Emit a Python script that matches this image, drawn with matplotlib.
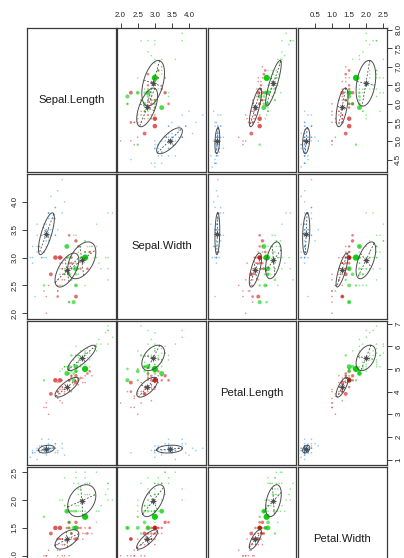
import matplotlib

matplotlib.use("Agg")
import matplotlib.pyplot as plt
import numpy as np

# iris measurements, rows 1..150 (setosa, versicolor, virginica)
sepal_length = [
    5.1, 4.9, 4.7, 4.6, 5.0, 5.4, 4.6, 5.0, 4.4, 4.9, 5.4, 4.8, 4.8, 4.3, 5.8, 5.7, 5.4, 5.1, 5.7, 5.1,
    5.4, 5.1, 4.6, 5.1, 4.8, 5.0, 5.0, 5.2, 5.2, 4.7, 4.8, 5.4, 5.2, 5.5, 4.9, 5.0, 5.5, 4.9, 4.4, 5.1,
    5.0, 4.5, 4.4, 5.0, 5.1, 4.8, 5.1, 4.6, 5.3, 5.0,
    7.0, 6.4, 6.9, 5.5, 6.5, 5.7, 6.3, 4.9, 6.6, 5.2, 5.0, 5.9, 6.0, 6.1, 5.6, 6.7, 5.6, 5.8, 6.2, 5.6,
    5.9, 6.1, 6.3, 6.1, 6.4, 6.6, 6.8, 6.7, 6.0, 5.7, 5.5, 5.5, 5.8, 6.0, 5.4, 6.0, 6.7, 6.3, 5.6, 5.5,
    5.5, 6.1, 5.8, 5.0, 5.6, 5.7, 5.7, 6.2, 5.1, 5.7,
    6.3, 5.8, 7.1, 6.3, 6.5, 7.6, 4.9, 7.3, 6.7, 7.2, 6.5, 6.4, 6.8, 5.7, 5.8, 6.4, 6.5, 7.7, 7.7, 6.0,
    6.9, 5.6, 7.7, 6.3, 6.7, 7.2, 6.2, 6.1, 6.4, 7.2, 7.4, 7.9, 6.4, 6.3, 6.1, 7.7, 6.3, 6.4, 6.0, 6.9,
    6.7, 6.9, 5.8, 6.8, 6.7, 6.7, 6.3, 6.5, 6.2, 5.9,
]
sepal_width = [
    3.5, 3.0, 3.2, 3.1, 3.6, 3.9, 3.4, 3.4, 2.9, 3.1, 3.7, 3.4, 3.0, 3.0, 4.0, 4.4, 3.9, 3.5, 3.8, 3.8,
    3.4, 3.7, 3.6, 3.3, 3.4, 3.0, 3.4, 3.5, 3.4, 3.2, 3.1, 3.4, 4.1, 4.2, 3.1, 3.2, 3.5, 3.6, 3.0, 3.4,
    3.5, 2.3, 3.2, 3.5, 3.8, 3.0, 3.8, 3.2, 3.7, 3.3,
    3.2, 3.2, 3.1, 2.3, 2.8, 2.8, 3.3, 2.4, 2.9, 2.7, 2.0, 3.0, 2.2, 2.9, 2.9, 3.1, 3.0, 2.7, 2.2, 2.5,
    3.2, 2.8, 2.5, 2.8, 2.9, 3.0, 2.8, 3.0, 2.9, 2.6, 2.4, 2.4, 2.7, 2.7, 3.0, 3.4, 3.1, 2.3, 3.0, 2.5,
    2.6, 3.0, 2.6, 2.3, 2.7, 3.0, 2.9, 2.9, 2.5, 2.8,
    3.3, 2.7, 3.0, 2.9, 3.0, 3.0, 2.5, 2.9, 2.5, 3.6, 3.2, 2.7, 3.0, 2.5, 2.8, 3.2, 3.0, 3.8, 2.6, 2.2,
    3.2, 2.8, 2.8, 2.7, 3.3, 3.2, 2.8, 3.0, 2.8, 3.0, 2.8, 3.8, 2.8, 2.8, 2.6, 3.0, 3.4, 3.1, 3.0, 3.1,
    3.1, 3.1, 2.7, 3.2, 3.3, 3.0, 2.5, 3.0, 3.4, 3.0,
]
petal_length = [
    1.4, 1.4, 1.3, 1.5, 1.4, 1.7, 1.4, 1.5, 1.4, 1.5, 1.5, 1.6, 1.4, 1.1, 1.2, 1.5, 1.3, 1.4, 1.7, 1.5,
    1.7, 1.5, 1.0, 1.7, 1.9, 1.6, 1.6, 1.5, 1.4, 1.6, 1.6, 1.5, 1.5, 1.4, 1.5, 1.2, 1.3, 1.4, 1.3, 1.5,
    1.3, 1.3, 1.3, 1.6, 1.9, 1.4, 1.6, 1.4, 1.5, 1.4,
    4.7, 4.5, 4.9, 4.0, 4.6, 4.5, 4.7, 3.3, 4.6, 3.9, 3.5, 4.2, 4.0, 4.7, 3.6, 4.4, 4.5, 4.1, 4.5, 3.9,
    4.8, 4.0, 4.9, 4.7, 4.3, 4.4, 4.8, 5.0, 4.5, 3.5, 3.8, 3.7, 3.9, 5.1, 4.5, 4.5, 4.7, 4.4, 4.1, 4.0,
    4.4, 4.6, 4.0, 3.3, 4.2, 4.2, 4.2, 4.3, 3.0, 4.1,
    6.0, 5.1, 5.9, 5.6, 5.8, 6.6, 4.5, 6.3, 5.8, 6.1, 5.1, 5.3, 5.5, 5.0, 5.1, 5.3, 5.5, 6.7, 6.9, 5.0,
    5.7, 4.9, 6.7, 4.9, 5.7, 6.0, 4.8, 4.9, 5.6, 5.8, 6.1, 6.4, 5.6, 5.1, 5.6, 6.1, 5.6, 5.5, 4.8, 5.4,
    5.6, 5.1, 5.1, 5.9, 5.7, 5.2, 5.0, 5.2, 5.4, 5.1,
]
petal_width = [
    0.2, 0.2, 0.2, 0.2, 0.2, 0.4, 0.3, 0.2, 0.2, 0.1, 0.2, 0.2, 0.1, 0.1, 0.2, 0.4, 0.4, 0.3, 0.3, 0.3,
    0.2, 0.4, 0.2, 0.5, 0.2, 0.2, 0.4, 0.2, 0.2, 0.2, 0.2, 0.4, 0.1, 0.2, 0.2, 0.2, 0.2, 0.1, 0.2, 0.2,
    0.3, 0.3, 0.2, 0.6, 0.4, 0.3, 0.2, 0.2, 0.2, 0.2,
    1.4, 1.5, 1.5, 1.3, 1.5, 1.3, 1.6, 1.0, 1.3, 1.4, 1.0, 1.5, 1.0, 1.4, 1.3, 1.4, 1.5, 1.0, 1.5, 1.1,
    1.8, 1.3, 1.5, 1.2, 1.3, 1.4, 1.4, 1.7, 1.5, 1.0, 1.1, 1.0, 1.2, 1.6, 1.5, 1.6, 1.5, 1.3, 1.3, 1.3,
    1.2, 1.4, 1.2, 1.0, 1.3, 1.2, 1.3, 1.3, 1.1, 1.3,
    2.5, 1.9, 2.1, 1.8, 2.2, 2.1, 1.7, 1.8, 1.8, 2.5, 2.0, 1.9, 2.1, 2.0, 2.4, 2.3, 1.8, 2.2, 2.3, 1.5,
    2.3, 2.0, 2.0, 1.8, 2.1, 1.8, 1.8, 1.8, 2.1, 1.6, 1.9, 2.0, 2.2, 1.5, 1.4, 2.3, 2.4, 1.8, 1.8, 2.1,
    2.4, 2.3, 1.9, 2.3, 2.5, 2.3, 1.9, 2.0, 2.3, 1.8,
]
var_names = ["Sepal.Length", "Sepal.Width", "Petal.Length", "Petal.Width"]

# cluster of each row: species order, with a few versicolor rows put in cluster 3
species_sizes = [50, 50, 50]
moved_to_cluster3 = [69, 71, 73, 78, 84]

unc_rows = [78, 71, 134, 69, 73, 84, 67, 85, 60, 88, 57, 54, 120, 107, 139, 127, 124,
            64, 79, 86, 53, 77, 55, 52, 62, 92, 128, 135]
unc_vals = [0.50, 0.25, 0.25, 0.15, 0.12, 0.10, 0.20, 0.20, 0.12, 0.12, 0.08, 0.03, 0.03,
            0.02, 0.03, 0.03, 0.02, 0.02, 0.03, 0.03, 0.03, 0.03, 0.02, 0.02, 0.02, 0.02,
            0.02, 0.02]

# axis ticks for each variable (only the ones that fall inside the picture)
ticks = {
    "Sepal.Length": ([4.5, 5.0, 5.5, 6.0, 6.5, 7.0, 7.5, 8.0],
                     ["4.5", "5.0", "5.5", "6.0", "6.5", "7.0", "7.5", "8.0"]),
    "Sepal.Width": ([2.0, 2.5, 3.0, 3.5, 4.0], ["2.0", "2.5", "3.0", "3.5", "4.0"]),
    "Petal.Length": ([1, 2, 3, 4, 5, 6, 7], ["1", "2", "3", "4", "5", "6", "7"]),
    "Petal.Width": ([0.5, 1.0, 1.5, 2.0, 2.5], ["0.5", "1.0", "1.5", "2.0", "2.5"]),
}
left_ticks_row4 = ([1.0, 1.5, 2.0, 2.5], ["1.0", "1.5", "2.0", "2.5"])

CLUSTER_COLORS = ["#1C86EE", "#CD0000", "#00CD00"]  # dodgerblue2, red3, green3
ELL_COLOR = "#4D4D4D"  # grey30
FRAME = "#3a3a3a"

data = np.column_stack([sepal_length, sepal_width, petal_length, petal_width])
cluster = np.repeat([0, 1, 2], species_sizes)
cluster[np.array(moved_to_cluster3) - 1] = 2
unc = np.zeros(len(data))
unc[np.array(unc_rows) - 1] = unc_vals

# bubble sizes/alpha like mclust: radius ~ sqrt(uncertainty)
u = unc / unc.max()
r = np.sqrt(u)
diam_px = 1.6 + 4.6 * r
sizes = (diam_px * 0.72) ** 2
alphas = 0.45 + 0.5 * u
rgba = np.array([matplotlib.colors.to_rgba(CLUSTER_COLORS[c], a) for c, a in zip(cluster, alphas)])

lims = []
for k in range(4):
    lo, hi = data[:, k].min(), data[:, k].max()
    ext = 0.04 * (hi - lo)
    lims.append((lo - ext, hi + ext))

means = [data[cluster == c].mean(axis=0) for c in range(3)]
covs = [np.cov(data[cluster == c].T, bias=True) for c in range(3)]


def draw_ellipse(ax, mu, S):
    vals, vecs = np.linalg.eigh(S)
    order = np.argsort(vals)[::-1]
    s = np.sqrt(vals[order])
    V = vecs[:, order]
    t = np.linspace(0, 2 * np.pi, 121)
    pts = mu[:, None] + V @ np.vstack([s[0] * np.cos(t), s[1] * np.sin(t)])
    ax.plot(pts[0], pts[1], color=ELL_COLOR, lw=0.7, zorder=4)
    for a in range(2):
        seg = mu[:, None] + np.outer(V[:, a] * s[a], [1, -1])
        ax.plot(seg[0], seg[1], color=ELL_COLOR, lw=0.6, dashes=(2.2, 2.0), zorder=4)
    ax.plot(mu[0], mu[1], marker="+", ms=4.2, mew=0.7, color=ELL_COLOR, zorder=5)
    ax.plot(mu[0], mu[1], marker="x", ms=3.2, mew=0.7, color=ELL_COLOR, zorder=5)


W, H = 404, 558
fig = plt.figure(figsize=(W / 100, H / 100), dpi=100)
left0, top0 = 27.0, 28.0
pw, ph = 88.8, 144.3
dx, dy = 90.3, 146.3

for i in range(4):
    for j in range(4):
        x0 = left0 + j * dx
        y0 = top0 + i * dy
        ax = fig.add_axes([x0 / W, 1 - (y0 + ph) / H, pw / W, ph / H])
        ax.set_xlim(lims[j])
        ax.set_ylim(lims[i])
        for sp in ax.spines.values():
            sp.set_color(FRAME)
            sp.set_linewidth(0.9)
        ax.tick_params(which="both", direction="out", length=3.6, width=0.6,
                       color="#222222", labelsize=5.7, labelcolor="#222222", pad=2.6)
        ax.set_xticks([])
        ax.set_yticks([])

        # pairs()-style alternating axes (bottom axes fall outside the picture)
        if i == 0 and j % 2 == 1:
            ax.set_xticks(ticks[var_names[j]][0], ticks[var_names[j]][1])
            ax.xaxis.tick_top()
        if j == 0 and i == 1:
            ax.set_yticks(ticks[var_names[i]][0], ticks[var_names[i]][1])
        if j == 0 and i == 3:
            ax.set_yticks(left_ticks_row4[0], left_ticks_row4[1])
        if j == 3 and i % 2 == 0:
            ax.set_yticks(ticks[var_names[i]][0], ticks[var_names[i]][1])
            ax.yaxis.tick_right()
        for lab in ax.get_yticklabels():
            lab.set_rotation(90)
            lab.set_va("center")
            lab.set_fontfamily("Liberation Sans")
        for lab in ax.get_xticklabels():
            lab.set_fontfamily("Liberation Sans")

        if i == j:
            ax.text(0.5, 0.5, var_names[i], transform=ax.transAxes, ha="center", va="center",
                    fontsize=8.1, family="Liberation Sans", color="#1a1a1a")
            continue

        ax.scatter(data[:, j], data[:, i], s=sizes, c=rgba, edgecolors="none", zorder=2)
        for c in range(3):
            draw_ellipse(ax, means[c][[j, i]], covs[c][np.ix_([j, i], [j, i])])

fig.savefig("out.png", dpi=100, facecolor="white")
